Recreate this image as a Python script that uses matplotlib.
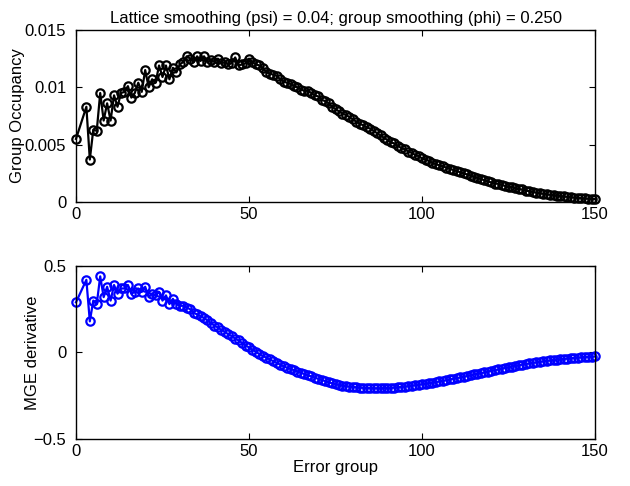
import numpy as np
import matplotlib
matplotlib.use("Agg")
import matplotlib.pyplot as plt

plt.rcParams['font.family'] = ['Liberation Sans', 'DejaVu Sans']
plt.rcParams['font.size'] = 12

# error groups (x) shared by both panels
groups = [0] + list(range(3, 151))

occupancy = [
    0.0055, 0.0083, 0.0037, 0.0063, 0.0062, 0.0095, 0.0071, 0.0086, 0.0071, 0.0093,
    0.0083, 0.0095, 0.0096, 0.0101, 0.0091, 0.0095, 0.0104, 0.0096, 0.0115, 0.0100,
    0.0107, 0.0104, 0.0119, 0.0109, 0.0119, 0.0107, 0.0117, 0.0113, 0.0120, 0.0122,
    0.0127, 0.0125, 0.0122, 0.0127, 0.0123, 0.0127, 0.0122, 0.0124, 0.0122, 0.0125,
    0.0121, 0.0122, 0.0120, 0.0121, 0.0126, 0.0119, 0.0120, 0.0121, 0.0125, 0.0122,
    0.0120, 0.0119, 0.0117, 0.0113, 0.0112, 0.0111, 0.0110, 0.0107, 0.0105, 0.0104,
    0.0103, 0.0101, 0.0100, 0.0098, 0.0097, 0.0097, 0.0095, 0.0093, 0.0092, 0.0089,
    0.0088, 0.0086, 0.0083, 0.0081, 0.0079, 0.0077, 0.0076, 0.0074, 0.0072, 0.0070,
    0.0068, 0.0067, 0.0065, 0.0064, 0.0062, 0.0060, 0.0058, 0.0056, 0.0054, 0.0052,
    0.0051, 0.0049, 0.0047, 0.0046, 0.0044, 0.0043, 0.0041, 0.0040, 0.0038, 0.0037,
    0.0036, 0.0034, 0.0033, 0.0032, 0.0031, 0.0030, 0.0029, 0.0028, 0.0027, 0.0026,
    0.0025, 0.0024, 0.0023, 0.0022, 0.0021, 0.0020, 0.0019, 0.0018, 0.0017, 0.0016,
    0.0016, 0.0015, 0.0014, 0.0013, 0.0013, 0.0012, 0.0011, 0.0011, 0.0010, 0.00094,
    0.00088, 0.00082, 0.00077, 0.00072, 0.00067, 0.00063, 0.00059, 0.00055, 0.00051, 0.00048,
    0.00045, 0.00042, 0.00039, 0.00036, 0.00034, 0.00031, 0.00029, 0.00027, 0.00025,
]

mge_deriv = [
    0.29, 0.42, 0.18, 0.30, 0.28, 0.44, 0.32, 0.38, 0.30, 0.39,
    0.34, 0.37, 0.37, 0.39, 0.34, 0.35, 0.37, 0.35, 0.38, 0.32,
    0.34, 0.33, 0.35, 0.30, 0.33, 0.28, 0.31, 0.28, 0.27, 0.27,
    0.26, 0.25, 0.23, 0.22, 0.21, 0.20, 0.185, 0.17, 0.155, 0.145,
    0.13, 0.12, 0.105, 0.095, 0.08, 0.07, 0.055, 0.04, 0.03, 0.015,
    0.005, -0.01, -0.02, -0.03, -0.04, -0.05, -0.06, -0.07, -0.08, -0.088,
    -0.095, -0.102, -0.11, -0.117, -0.124, -0.132, -0.138, -0.145, -0.152, -0.158,
    -0.165, -0.172, -0.178, -0.183, -0.187, -0.191, -0.194, -0.197, -0.199, -0.201,
    -0.203, -0.204, -0.205, -0.206, -0.207, -0.207, -0.207, -0.206, -0.205, -0.204,
    -0.203, -0.201, -0.199, -0.197, -0.194, -0.191, -0.189, -0.186, -0.183, -0.180,
    -0.177, -0.174, -0.171, -0.167, -0.164, -0.160, -0.156, -0.152, -0.148, -0.144,
    -0.140, -0.136, -0.132, -0.127, -0.123, -0.119, -0.115, -0.110, -0.106, -0.102,
    -0.098, -0.093, -0.089, -0.085, -0.081, -0.077, -0.073, -0.070, -0.066, -0.063,
    -0.060, -0.057, -0.054, -0.051, -0.048, -0.046, -0.043, -0.041, -0.039, -0.037,
    -0.035, -0.033, -0.031, -0.029, -0.028, -0.026, -0.025, -0.024, -0.023,
]

top_ticks = [0, 0.005, 0.01, 0.015]
top_labels = ['0', '0.005', '0.01', '0.015']
bot_ticks = [-0.5, 0, 0.5]
bot_labels = ['\u22120.5', '0', '0.5']
x_ticks = [0, 50, 100, 150]


def style(ax):
    ax.tick_params(direction='in', top=True, right=True, length=4, width=0.8,
                   labelsize=12)
    ax.tick_params(axis='y', pad=7)
    for s in ax.spines.values():
        s.set_linewidth(1.0)
    ax.set_xlim(0, 150)
    ax.set_xticks(x_ticks)


fig = plt.figure(figsize=(6.3, 4.86), dpi=100)
ax1 = fig.add_axes([0.1206, 0.5844, 0.824, 0.354])
ax2 = fig.add_axes([0.1206, 0.0967, 0.824, 0.356])

ax1.plot(groups, occupancy, color='black', marker='o', markersize=6,
         markerfacecolor='none', markeredgewidth=1.6, linewidth=1.6, clip_on=False)
style(ax1)
ax1.set_ylim(0, 0.015)
ax1.set_yticks(top_ticks)
ax1.set_yticklabels(top_labels)
ax1.set_ylabel('Group Occupancy')
ax1.yaxis.set_label_coords(-0.098, 0.5)
ax1.set_title('Lattice smoothing (psi) = 0.04; group smoothing (phi) = 0.250',
              fontsize=12, pad=5)

ax2.plot(groups, mge_deriv, color='blue', marker='o', markersize=6,
         markerfacecolor='none', markeredgewidth=1.6, linewidth=1.6, clip_on=False)
style(ax2)
ax2.set_ylim(-0.5, 0.5)
ax2.set_yticks(bot_ticks)
ax2.set_yticklabels(bot_labels)
ax2.set_ylabel('MGE derivative')
ax2.yaxis.set_label_coords(-0.07, 0.5)
ax2.set_xlabel('Error group', labelpad=1)

fig.savefig('out.png', dpi=100)
